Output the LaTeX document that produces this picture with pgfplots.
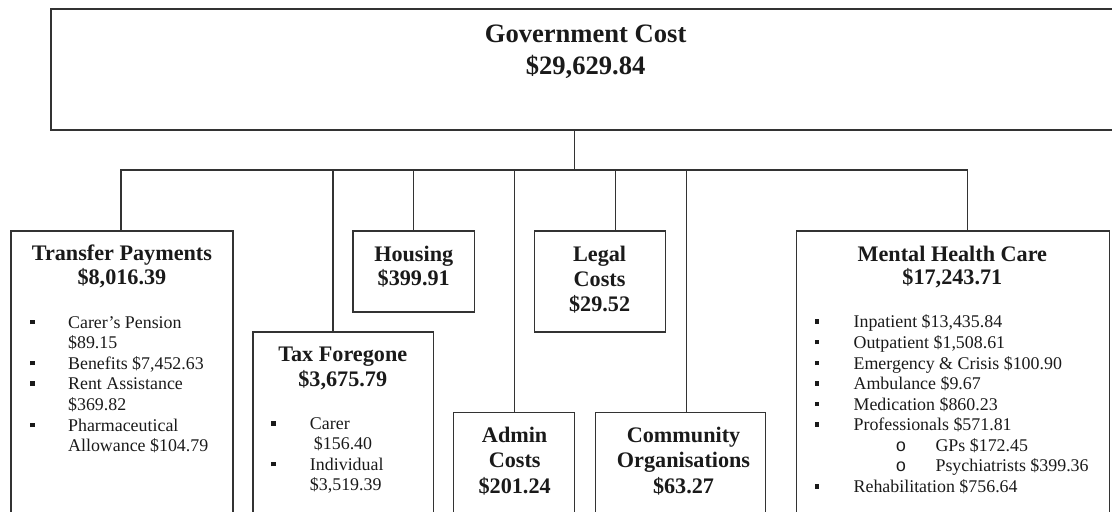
\documentclass[border=0pt]{standalone}
\usepackage{pgfplots}
\pgfplotsset{compat=1.18}
\usepackage{fontspec}
\setmainfont{Liberation Serif}
\newfontfamily\monofont{Liberation Mono}
\definecolor{ln}{HTML}{333333}
\definecolor{tx}{HTML}{1A1A1A}
\newcommand{\ttl}{\fontsize{26.6}{30}\selectfont\bfseries}
\newcommand{\hd}{\fontsize{22.2}{25}\selectfont\bfseries}
\newcommand{\bd}{\fontsize{17.9}{20.6}\selectfont}
\newcommand{\sq}{\rule[4pt]{4.5pt}{4.5pt}}
\begin{document}
\begin{tikzpicture}[
  box/.style={draw=ln,line width=1.5pt,mark=none,line cap=rect},
  t/.style={text=tx,inner sep=0pt},
  h/.style={t,anchor=base,font=\hd},
  b/.style={t,anchor=base west,font=\bd}]
\begin{axis}[width=1112pt,height=512pt,scale only axis,hide axis,
  xmin=0,xmax=1112,ymin=0,ymax=512,y dir=reverse,clip=false]
\path (axis cs:0,0) rectangle (axis cs:1112,512);
% top box
\addplot[box,forget plot] coordinates {(1112,9)(51,9)(51,130)(1112,130)};
% connectors
\addplot[box,forget plot] coordinates {(575,130)(575,170)};
\addplot[box,forget plot] coordinates {(121,170)(968,170)};
\addplot[box,forget plot] coordinates {(121,170)(121,231)};
\addplot[box,forget plot] coordinates {(333,170)(333,332)};
\addplot[box,forget plot] coordinates {(414,170)(414,231)};
\addplot[box,forget plot] coordinates {(515,170)(515,413)};
\addplot[box,forget plot] coordinates {(616,170)(616,231)};
\addplot[box,forget plot] coordinates {(687,170)(687,413)};
\addplot[box,forget plot] coordinates {(968,170)(968,231)};
% boxes
\addplot[box,forget plot] coordinates {(11,512)(11,231)(233,231)(233,512)};
\addplot[box,forget plot] coordinates {(253,512)(253,332)(434,332)(434,512)};
\addplot[box,forget plot] coordinates {(353,231)(475,231)(475,312)(353,312)(353,231)};
\addplot[box,forget plot] coordinates {(535,231)(666,231)(666,332)(535,332)(535,231)};
\addplot[box,forget plot] coordinates {(454,512)(454,413)(575,413)(575,512)};
\addplot[box,forget plot] coordinates {(596,512)(596,413)(766,413)(766,512)};
\addplot[box,forget plot] coordinates {(797,512)(797,231)(1110,231)(1110,512)};
% title
\node[t,anchor=base,font=\ttl] at (axis cs:586,43) {Government Cost};
\node[t,anchor=base,font=\ttl] at (axis cs:586,75) {\$29,629.84};
% Transfer Payments
\node[h] at (axis cs:122,261) {Transfer Payments};
\node[h] at (axis cs:122,285) {\$8,016.39};
\node[b] at (axis cs:30,328.3) {\sq};
\node[b] at (axis cs:68,328.3) {Carer’s Pension};
\node[b] at (axis cs:68,349) {\$89.15};
\node[b] at (axis cs:30,369.5) {\sq};
\node[b] at (axis cs:68,369.5) {Benefits \$7,452.63};
\node[b] at (axis cs:30,390) {\sq};
\node[b] at (axis cs:68,390) {Rent Assistance};
\node[b] at (axis cs:68,410.7) {\$369.82};
\node[b] at (axis cs:30,431.3) {\sq};
\node[b] at (axis cs:68,431.3) {Pharmaceutical};
\node[b] at (axis cs:68,452) {Allowance \$104.79};
% Tax Foregone
\node[h] at (axis cs:343,361.7) {Tax Foregone};
\node[h] at (axis cs:343,386.7) {\$3,675.79};
\node[b] at (axis cs:271,430) {\sq};
\node[b] at (axis cs:310,430) {Carer};
\node[b] at (axis cs:314,450.3) {\$156.40};
\node[b] at (axis cs:271,470.7) {\sq};
\node[b] at (axis cs:310,470.7) {Individual};
\node[b] at (axis cs:310,491) {\$3,519.39};
% Housing
\node[h] at (axis cs:414,261.7) {Housing};
\node[h] at (axis cs:414,286) {\$399.91};
% Legal
\node[h] at (axis cs:600,261.7) {Legal};
\node[h] at (axis cs:600,286.7) {Costs};
\node[h] at (axis cs:600,311.7) {\$29.52};
% Admin
\node[h] at (axis cs:515,442.7) {Admin};
\node[h] at (axis cs:515,468.3) {Costs};
\node[h] at (axis cs:515,494) {\$201.24};
% Community
\node[h] at (axis cs:684,442.7) {Community};
\node[h] at (axis cs:684,468.3) {Organisations};
\node[h] at (axis cs:684,494) {\$63.27};
% Mental Health Care
\node[h] at (axis cs:953,261.7) {Mental Health Care};
\node[h] at (axis cs:953,285) {\$17,243.71};
\node[b] at (axis cs:815,328.1) {\sq};
\node[b] at (axis cs:854,328.1) {Inpatient \$13,435.84};
\node[b] at (axis cs:815,348.7) {\sq};
\node[b] at (axis cs:854,348.7) {Outpatient \$1,508.61};
\node[b] at (axis cs:815,369.3) {\sq};
\node[b] at (axis cs:854,369.3) {Emergency \& Crisis \$100.90};
\node[b] at (axis cs:815,389.9) {\sq};
\node[b] at (axis cs:854,389.9) {Ambulance \$9.67};
\node[b] at (axis cs:815,410.5) {\sq};
\node[b] at (axis cs:854,410.5) {Medication \$860.23};
\node[b] at (axis cs:815,431.1) {\sq};
\node[b] at (axis cs:854,431.1) {Professionals \$571.81};
\node[b] at (axis cs:896,451.7) {\monofont o};
\node[b] at (axis cs:936,451.7) {GPs \$172.45};
\node[b] at (axis cs:896,472.3) {\monofont o};
\node[b] at (axis cs:936,472.3) {Psychiatrists \$399.36};
\node[b] at (axis cs:815,492.9) {\sq};
\node[b] at (axis cs:854,492.9) {Rehabilitation \$756.64};
\end{axis}
\end{tikzpicture}
\end{document}
